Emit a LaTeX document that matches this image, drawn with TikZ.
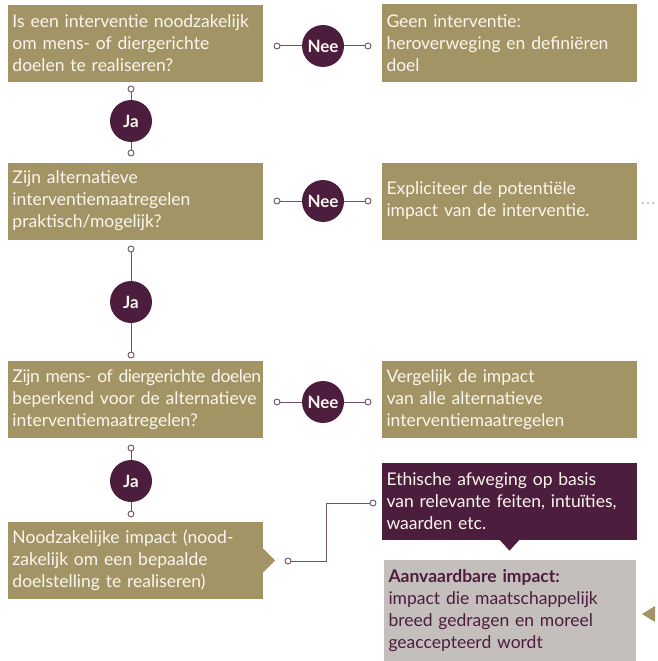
\documentclass[tikz,border=0pt]{standalone}
\usepackage{fontspec}
\setmainfont{Lato}
\definecolor{gold}{HTML}{A39465}
\definecolor{plum}{HTML}{4D1D3D}
\definecolor{greybox}{HTML}{C4BEBC}
\definecolor{wire}{HTML}{6E5466}
\definecolor{cream}{HTML}{FAF6EE}
\definecolor{dotgrey}{HTML}{8C8C8C}
\newcommand{\tightline}[1]{\mbox{\addfontfeature{LetterSpace=-2.5}#1}}
\begin{document}
\begin{tikzpicture}[x=1pt,y=-1pt,
  txt/.style={font=\fontsize{17.5}{22}\selectfont},
  box/.style={txt, fill=gold, text=cream, minimum width=255pt, text width=246pt,
    align=left, inner xsep=4.5pt, inner ysep=6pt, minimum height=77pt},
  plumbox/.style={box, fill=plum},
  greyb/.style={txt, fill=greybox, text=plum, minimum width=252pt, text width=243pt,
    align=left, inner xsep=4.5pt, inner ysep=6pt, minimum height=101pt},
  yn/.style={circle, fill=plum, text=cream, minimum size=42pt, inner sep=0pt,
    font=\fontsize{17}{17}\selectfont\bfseries},
  dot/.style={circle, draw=wire, fill=white, line width=0.9pt, minimum size=6pt, inner sep=0pt},
  wireline/.style={draw=wire, line width=1pt}]
\useasboundingbox (0,0) rectangle (657,661);

% left column
\node[box] (q1) at (135.5,43.5) {Is een interventie noodzakelijk\\om mens- of diergerichte\\doelen te realiseren?};
\node[box] (q2) at (135.5,201) {Zijn alternatieve\\interventiemaatregelen\\praktisch/mogelijk?};
\node[box] (q3) at (135.5,399.5) {\tightline{Zijn mens- of diergerichte doelen}\\beperkend voor de alternatieve\\interventiemaatregelen?};
\node[box] (q4) at (135.5,560.5) {Noodzakelijke impact (nood-\\zakelijk om een bepaalde\\doelstelling te realiseren)};
\fill[gold] ([yshift=12pt]q4.east) -- ([xshift=12pt]q4.east) -- ([yshift=-12pt]q4.east) -- cycle;

% right column
\node[box] (r1) at (509.5,43) {Geen interventie:\\heroverweging en definiëren\\doel};
\node[box] (r2) at (509.5,201) {Expliciteer de potentiële\\impact van de interventie.};
\node[box] (r3) at (509.5,399.5) {Vergelijk de impact\\van alle alternatieve\\interventiemaatregelen};
\node[plumbox] (eth) at (509.5,501) {Ethische afweging op basis\\van relevante feiten, intuïties,\\waarden etc.};
\fill[plum] ([xshift=-10pt]eth.south) -- ([yshift=-11pt]eth.south) -- ([xshift=10pt]eth.south) -- cycle;
\node[greyb] (acc) at (510,610.5) {\textbf{Aanvaardbare impact:}\\impact die maatschappelijk\\breed gedragen en moreel\\geaccepteerd wordt};

% dots after r2
\foreach \xx in {643,648,653} \fill[dotgrey] (\xx,203) circle (0.9pt);
% incoming pointer at the right of the grey box
\fill[gold] (642,614) -- (655,606) -- (655,622) -- cycle;

% Nee rows
\node[yn] (nee1) at (323,46) {Nee};
\node[yn] (nee2) at (323,201) {Nee};
\node[yn] (nee3) at (323,402) {Nee};
\node[dot] (n1a) at (277,46) {};
\node[dot] (n1b) at (368,46) {};
\node[dot] (n2a) at (277,201) {};
\node[dot] (n2b) at (368,201) {};
\node[dot] (n3a) at (277,402) {};
\node[dot] (n3b) at (368,402) {};
\draw[wireline] (n1a) -- (nee1) -- (n1b);
\draw[wireline] (n2a) -- (nee2) -- (n2b);
\draw[wireline] (n3a) -- (nee3) -- (n3b);

% Ja column
\node[yn] (ja1) at (131,121) {Ja};
\node[yn] (ja2) at (131,302) {Ja};
\node[yn] (ja3) at (131,481) {Ja};
\node[dot] (j1a) at (131,89) {};
\node[dot] (j1b) at (131,153) {};
\node[dot] (j2a) at (131,249) {};
\node[dot] (j2b) at (131,355) {};
\node[dot] (j3a) at (131,448) {};
\node[dot] (j3b) at (131,514) {};
\draw[wireline] (j1a) -- (ja1) -- (j1b);
\draw[wireline] (j2a) -- (ja2) -- (j2b);
\draw[wireline] (j3a) -- (ja3) -- (j3b);

% elbow to ethics box
\node[dot] (d4) at (288,561) {};
\node[dot] (de) at (373,503) {};
\coordinate (bend) at (326,561);
\draw[wireline] (d4) -- (bend) |- (de);
\end{tikzpicture}
\end{document}
